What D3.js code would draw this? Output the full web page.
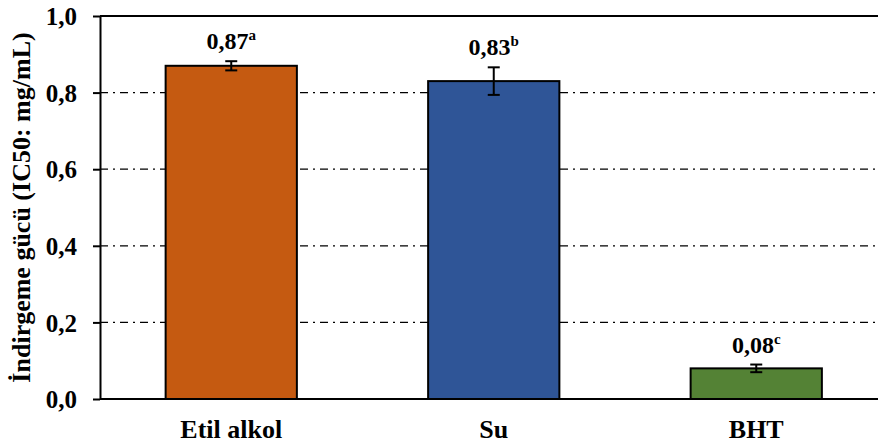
<!DOCTYPE html>
<html><head><meta charset="utf-8">
<script src="https://cdn.jsdelivr.net/npm/d3@7/dist/d3.min.js"></script>
<style>body{margin:0;background:#fff}svg{display:block}text{font-family:"Liberation Serif","Times New Roman",serif;font-weight:bold;fill:#000}</style>
</head><body><svg id="c" width="878" height="448"></svg>
<script>
const categories = ["Etil alkol", "Su", "BHT"];
const values = [0.87, 0.83, 0.08];
const errors = [0.012, 0.036, 0.01];
const letters = ["a", "b", "c"];
const colors = ["#C55A11", "#2F5597", "#548235"];
const yTicks = [0, 0.2, 0.4, 0.6, 0.8, 1.0];
const gridTicks = [0.2, 0.4, 0.6, 0.8];
const yTitle = "İndirgeme gücü (IC50: mg/mL)";

const svg = d3.select("#c");
const mL = 100, mR = 887.5, mT = 16, mB = 399;
const x = d3.scaleBand().domain(categories).range([mL, mR]).paddingInner(0.5).paddingOuter(0.25);
const y = d3.scaleLinear().domain([0, 1]).range([mB, mT]);
const fmt = v => d3.format(".1f")(v).replace(".", ",");

// grid
svg.append("g").selectAll("line").data(gridTicks).join("line")
  .attr("x1", mL).attr("x2", 878).attr("y1", d => y(d)).attr("y2", d => y(d))
  .attr("stroke", "#000").attr("stroke-width", 1.3).attr("stroke-dasharray", "8,5,2,5");
// top frame line
svg.append("line").attr("x1", mL).attr("x2", 878).attr("y1", y(1)).attr("y2", y(1))
  .attr("stroke", "#000").attr("stroke-width", 2);

// bars
svg.append("g").selectAll("rect").data(categories).join("rect")
  .attr("x", d => x(d)).attr("width", x.bandwidth())
  .attr("y", (d, i) => y(values[i])).attr("height", (d, i) => y(0) - y(values[i]))
  .attr("fill", (d, i) => colors[i]).attr("stroke", "#000").attr("stroke-width", 2);

// error bars
const eb = svg.append("g").attr("stroke", "#000").attr("stroke-width", 2);
categories.forEach((c, i) => {
  const cx = x(c) + x.bandwidth() / 2;
  const y1 = y(values[i] + errors[i]), y2 = y(values[i] - errors[i]);
  eb.append("line").attr("x1", cx).attr("x2", cx).attr("y1", y1).attr("y2", y2);
  eb.append("line").attr("x1", cx - 6).attr("x2", cx + 6).attr("y1", y1).attr("y2", y1);
  eb.append("line").attr("x1", cx - 6).attr("x2", cx + 6).attr("y1", y2).attr("y2", y2);
  const t = svg.append("text").attr("x", cx).attr("y", y1 - 12).attr("text-anchor", "middle")
    .attr("font-size", 24);
  t.append("tspan").text(d3.format(".2f")(values[i]).replace(".", ","));
  t.append("tspan").attr("font-size", 15).attr("dy", -9).text(letters[i]);
});

// axes
const yAxis = d3.axisLeft(y).tickValues(yTicks).tickFormat(fmt).tickSize(7).tickSizeOuter(0);
const gy = svg.append("g").attr("transform", `translate(${mL},0)`).call(yAxis);
gy.select(".domain").attr("stroke-width", 2);
gy.selectAll(".tick line").attr("stroke-width", 2);
gy.selectAll(".tick text").attr("font-size", 25).attr("x", -23).attr("dy", "0.35em")
  .attr("font-family", "Liberation Serif").attr("font-weight", "bold").attr("fill", "#000");

const xAxis = d3.axisBottom(x).tickSize(0).tickSizeOuter(0);
const gx = svg.append("g").attr("transform", `translate(0,${mB})`).call(xAxis);
gx.select(".domain").attr("d", `M${mL},0H878`).attr("stroke-width", 2);
gx.selectAll(".tick text").attr("font-size", 26).attr("y", 39).attr("dy", "0")
  .attr("font-family", "Liberation Serif").attr("font-weight", "bold").attr("fill", "#000");

svg.append("text").attr("transform", `translate(30,${(mT + mB) / 2}) rotate(-90)`)
  .attr("text-anchor", "middle").attr("font-size", 26).text(yTitle);
</script></body></html>
